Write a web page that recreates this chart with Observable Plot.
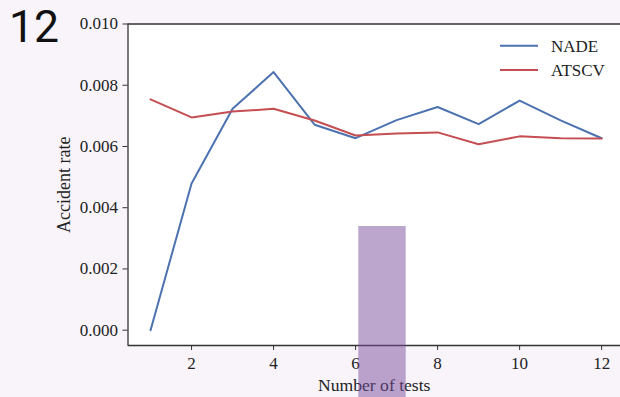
<!DOCTYPE html>
<html>
<head>
<meta charset="utf-8">
<script src="https://cdn.jsdelivr.net/npm/d3@7"></script>
<script src="https://cdn.jsdelivr.net/npm/@observablehq/plot@0.6"></script>
<style>
  html, body { margin: 0; padding: 0; background: #f8f4fa; }
  #wrap { position: relative; width: 620px; height: 397px; overflow: hidden; }
  #overlay { position: absolute; left: 0; top: 0; pointer-events: none; }
  #wrap svg text { font-family: 'Liberation Serif', 'Times New Roman', serif; }
  #wrap svg text.panel { font-family: Roboto, 'Noto Sans', sans-serif; }
</style>
</head>
<body>
<div id="wrap"></div>
<script>
const tests = [1, 2, 3, 4, 5, 6, 7, 8, 9, 10, 11, 12];
const nade  = [0.0000, 0.00479, 0.00723, 0.00843, 0.00671, 0.00627, 0.00686, 0.00729, 0.00673, 0.00750, 0.00685, 0.00627];
const atscv = [0.00754, 0.00695, 0.00714, 0.00723, 0.00685, 0.00636, 0.00642, 0.00646, 0.00607, 0.00633, 0.00627, 0.00626];
const seriesNames = ["NADE", "ATSCV"];
const seriesColors = ["#4c72b0", "#c44e52"];
const xTicks = [2, 4, 6, 8, 10, 12];
const yTicks = [0.000, 0.002, 0.004, 0.006, 0.008, 0.010];
const xDomain = [0.45, 12.46];
const yDomain = [-0.0005, 0.010];

const rows = [];
tests.forEach((t, i) => {
  rows.push({test: t, rate: nade[i], series: seriesNames[0]});
  rows.push({test: t, rate: atscv[i], series: seriesNames[1]});
});

const serif = "'Liberation Serif', 'Times New Roman', serif";
const spine = "#333";

const chart = Plot.plot({
  width: 620,
  height: 397,
  marginLeft: 127.5,
  marginRight: 0,
  marginTop: 23.5,
  marginBottom: 52,
  style: {background: "transparent", fontFamily: serif, fontSize: "17px", color: "#222"},
  x: {domain: xDomain},
  y: {domain: yDomain},
  color: {domain: seriesNames, range: seriesColors},
  marks: [
    Plot.frame({fill: "white", stroke: "none"}),
    Plot.lineY(rows, {x: "test", y: "rate", z: "series", stroke: "series", strokeWidth: 2}),
    Plot.ruleX([xDomain[0]], {stroke: spine, strokeWidth: 1.3}),
    Plot.ruleY([yDomain[0], yDomain[1]], {stroke: spine, strokeWidth: 1.3}),
    Plot.axisY({ticks: yTicks, tickFormat: d3.format(".3f"), tickSize: 5, tickPadding: 5, stroke: spine, fill: "#222", fontSize: 17, label: null}),
    Plot.axisX({ticks: xTicks, tickFormat: d => String(d), tickSize: 5, tickPadding: 6, stroke: spine, fill: "#222", fontSize: 17, label: null}),
    Plot.text(["Accident rate"], {frameAnchor: "left", dx: -58.5, rotate: -90, textAnchor: "middle", lineAnchor: "bottom", fill: "#222", fontSize: 18}),
    Plot.text(["Number of tests"], {frameAnchor: "bottom", dy: 45, textAnchor: "middle", lineAnchor: "bottom", fill: "#222", fontSize: 17.6})
  ]
});
const wrap = document.getElementById("wrap");
wrap.appendChild(chart);

// overlay: legend, panel number and a translucent occluding block
const ns = "http://www.w3.org/2000/svg";
const ov = document.createElementNS(ns, "svg");
ov.setAttribute("id", "overlay");
ov.setAttribute("width", 620);
ov.setAttribute("height", 397);
function el(tag, attrs, text) {
  const e = document.createElementNS(ns, tag);
  for (const k in attrs) e.setAttribute(k, attrs[k]);
  if (text != null) e.textContent = text;
  ov.appendChild(e);
  return e;
}
seriesNames.forEach((name, i) => {
  const yy = 45.7 + i * 24.3;
  el("line", {x1: 500, x2: 538, y1: yy, y2: yy, stroke: seriesColors[i], "stroke-width": 2});
  el("text", {x: 551, y: yy + 6, "font-family": serif, "font-size": 17, fill: "#222"}, name);
});
el("text", {class: "panel", x: 9, y: 41.7, "font-size": 44.5, fill: "#111"}, "12");
el("rect", {x: 358.3, y: 226, width: 47.4, height: 180, fill: "rgb(122,78,158)", "fill-opacity": 0.5});
wrap.appendChild(ov);
</script>
</body>
</html>
